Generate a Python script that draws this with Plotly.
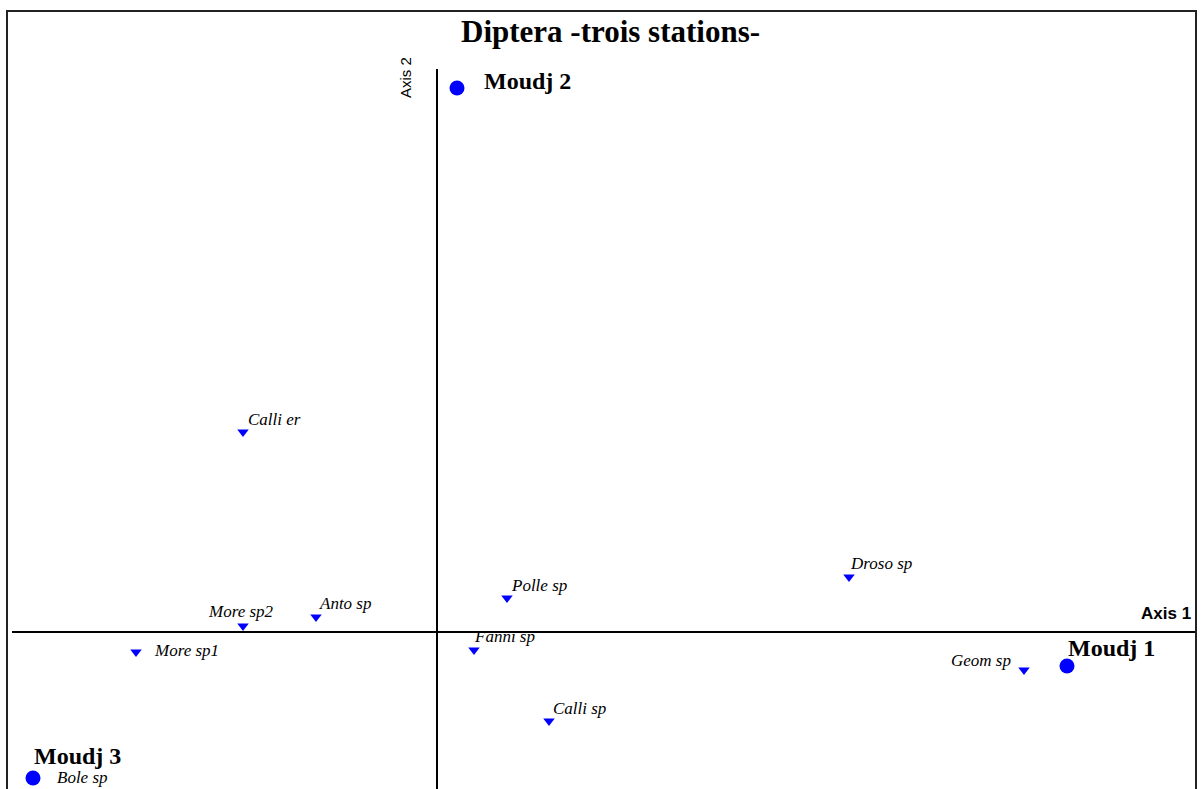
import plotly.graph_objects as go

# Coordonnées AFC (axe 1, axe 2)
stations = ["Moudj 1", "Moudj 2", "Moudj 3"]
st_ax1 = [1.575, 0.05, -1.01]
st_ax2 = [-0.085, 1.36, -0.365]

especes = ["Calli er", "Droso sp", "Polle sp", "Anto sp", "More sp2",
           "More sp1", "Fanni sp", "Calli sp", "Geom sp", "Bole sp"]
esp_ax1 = [-0.485, 1.03, 0.175, -0.3025, -0.485, -0.7525, 0.0925, 0.28, 1.4675, -1.01]
esp_ax2 = [0.50, 0.1375, 0.085, 0.0375, 0.015, -0.05, -0.045, -0.2225, -0.095, -0.365]

# décalages des étiquettes (px) : xshift, yshift, ancrage
esp_pos = {
    "Calli er": (3, 13, "left"), "Droso sp": (-1, 14, "left"),
    "Polle sp": (2, 13, "left"), "Anto sp": (1, 14, "left"),
    "More sp2": (-2, 15, "center"), "More sp1": (16, 2, "left"),
    "Fanni sp": (-2, 14, "left"), "Calli sp": (2, 13, "left"),
    "Geom sp": (-11, 10, "right"), "Bole sp": (22, 1, "left"),
}
st_pos = {"Moudj 1": (-1, 18), "Moudj 2": (25, 7), "Moudj 3": (-1, 22)}

BLEU = "#0000ff"
W, H = 1203, 789
k = 400.0  # px par unité
ox, oy = 437, 632
xr = [-ox / k, (W - ox) / k]
yr = [-(H - oy) / k, oy / k]


def px_x(p):
    return p / W


def px_y(p):
    return 1 - p / H


fig = go.Figure()
fig.add_trace(go.Scatter(x=esp_ax1, y=esp_ax2, mode="markers",
                         marker=dict(symbol="triangle-down", size=10, color=BLEU),
                         hoverinfo="text", text=especes))
fig.add_trace(go.Scatter(x=st_ax1, y=st_ax2, mode="markers",
                         marker=dict(symbol="circle", size=15, color=BLEU),
                         hoverinfo="text", text=stations))

for nom, x, y in zip(especes, esp_ax1, esp_ax2):
    dx, dy, anc = esp_pos[nom]
    fig.add_annotation(x=x, y=y, text=f"<i>{nom}</i>", showarrow=False,
                       xanchor=anc, yanchor="middle", xshift=dx, yshift=dy,
                       font=dict(family="Liberation Serif", size=17, color="black"))

for nom, x, y in zip(stations, st_ax1, st_ax2):
    dx, dy = st_pos[nom]
    fig.add_annotation(x=x, y=y, text=f"<b>{nom}</b>", showarrow=False,
                       xanchor="left", yanchor="middle", xshift=dx, yshift=dy,
                       font=dict(family="Liberation Serif", size=24, color="black"))

# axes factoriels
fig.add_shape(type="line", x0=0, x1=0, y0=yr[0] - 0.1, y1=(632 - 69) / k,
              line=dict(color="black", width=2))
fig.add_shape(type="line", x0=(12 - 437) / k, x1=(1195 - 437) / k, y0=0, y1=0,
              line=dict(color="black", width=2))

# cadre
cadre = dict(color="#222222", width=2)
fig.add_shape(type="rect", xref="paper", yref="paper",
              x0=px_x(7), x1=px_x(1196), y0=-0.02, y1=px_y(11), line=cadre)

fig.add_annotation(xref="paper", yref="paper", x=px_x(610), y=px_y(31),
                   text="<b>Diptera -trois stations-</b>", showarrow=False,
                   xanchor="center", yanchor="middle",
                   font=dict(family="Liberation Serif", size=31, color="black"))
fig.add_annotation(xref="paper", yref="paper", x=px_x(1193), y=px_y(613),
                   text="<b>Axis 1</b>", showarrow=False,
                   xanchor="right", yanchor="middle",
                   font=dict(family="Liberation Sans", size=17, color="black"))
fig.add_annotation(xref="paper", yref="paper", x=px_x(406), y=px_y(78),
                   text="Axis 2", showarrow=False, textangle=-90,
                   xanchor="center", yanchor="middle",
                   font=dict(family="Liberation Sans Narrow, Liberation Sans", size=15, color="black"))

fig.update_xaxes(range=xr, visible=False, fixedrange=True)
fig.update_yaxes(range=yr, visible=False, fixedrange=True)
fig.update_layout(width=W, height=H, margin=dict(l=0, r=0, t=0, b=0),
                  plot_bgcolor="white", paper_bgcolor="white", showlegend=False)

# pas de marge autour du graphique dans la page, pas de barre d'outils
fig.write_html("out.html", config={"displayModeBar": False},
               post_script="document.body.style.margin='0';document.body.style.overflow='hidden';")
